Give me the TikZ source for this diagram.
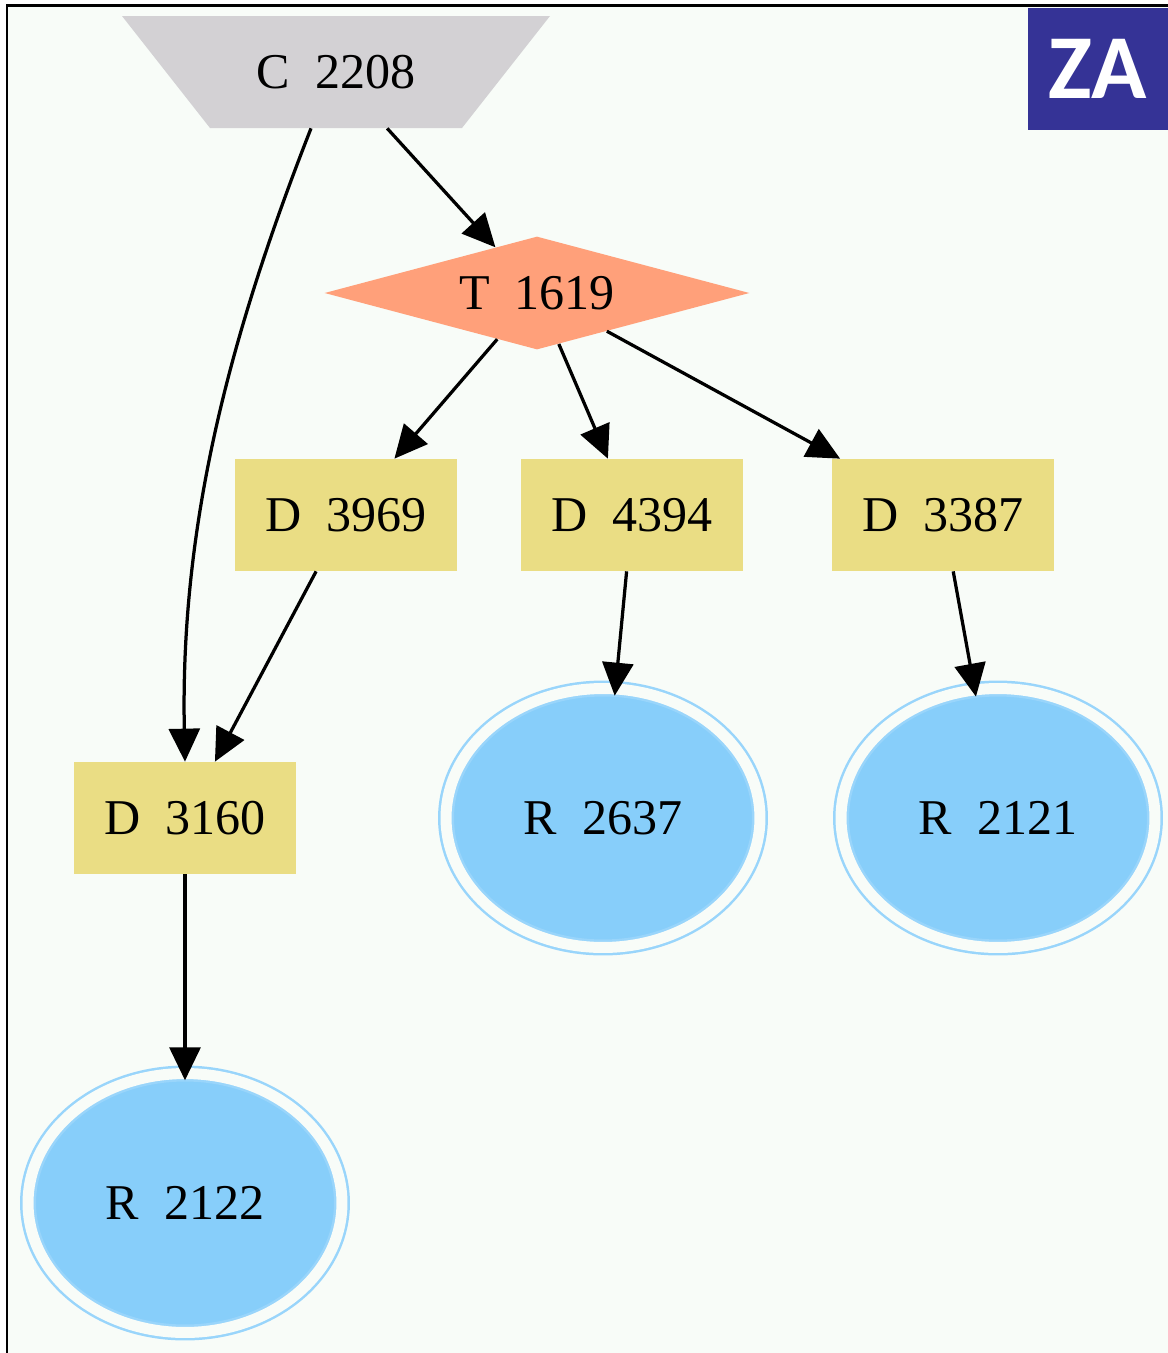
\documentclass[tikz,border=0pt]{standalone}
\usepackage{fontspec}
\setmainfont{Liberation Serif}
\newfontfamily\badgefont{Carlito}
\usetikzlibrary{arrows.meta,shapes.geometric,positioning}

\definecolor{bgcol}{RGB}{248,252,248}
\definecolor{ccol}{RGB}{211,209,212}
\definecolor{tcol}{RGB}{255,160,122}
\definecolor{dcol}{RGB}{234,221,132}
\definecolor{rcol}{RGB}{135,206,250}
\definecolor{zacol}{RGB}{53,51,150}

\tikzset{
    lbl/.style={font=\fontsize{28.5}{30}\selectfont, text=black},
    cbox/.style={lbl, rectangle, minimum width=5.04cm, minimum height=2.24cm, inner sep=0},
    tdiam/.style={lbl, diamond, fill=tcol, aspect=3.76,
        minimum width=8.5cm, minimum height=2.26cm, inner sep=0},
    drect/.style={lbl, rectangle, fill=dcol,
        minimum width=4.46cm, minimum height=2.24cm, inner sep=0},
    rell/.style={lbl, ellipse, fill=rcol, draw=rcol!85!white, line width=0.05cm,
        double=bgcol, double distance=0.22cm,
        minimum width=6.28cm, minimum height=5.18cm, inner sep=0},
    link/.style={line width=0.065cm, -{Triangle[length=0.66cm,width=0.62cm]}},
    toell/.style={link, shorten >=-0.16cm},
}

\begin{document}
\begin{tikzpicture}[x=0.02cm, y=-0.02cm]
    \useasboundingbox (0,0) rectangle (1168,1353);
    \fill[white] (0,0) rectangle (1168,1353);
    \fill[bgcol] (7,5) rectangle (1168,1353);              % Canvas
    \draw[line width=0.06cm] (7,1353) -- (7,5) -- (1168,5); % Frame

    % Badge
    \node[fill=zacol, minimum width=2.8cm, minimum height=2.44cm, inner sep=0,
          text=white, font=\badgefont\bfseries\fontsize{52}{52}\selectfont]
          (badge) at (1098,69) {ZA};

    % Nodes
    \fill[ccol] (122,16) -- (550,16) -- (462,128) -- (210,128) -- cycle; % C shape
    \node[cbox]  (c2208) at (336,72)   {C\ \ 2208};
    \node[tdiam] (t1619) at (537,293)  {T\ \ 1619};
    \node[drect] (d3969) at (346,515)  {D\ \ 3969};
    \node[drect] (d4394) at (632,515)  {D\ \ 4394};
    \node[drect] (d3387) at (943,515)  {D\ \ 3387};
    \node[drect] (d3160) at (185,818)  {D\ \ 3160};
    \node[rell]  (r2637) at (603,818)  {R\ \ 2637};
    \node[rell]  (r2121) at (998,818)  {R\ \ 2121};
    \node[rell]  (r2122) at (185,1203) {R\ \ 2122};

    % Edges
    \draw[link] (c2208) -- (t1619);
    \draw[link] ([xshift=-0.5cm]c2208.south) .. controls (232,330) and (180,520) .. (d3160.north);
    \draw[link] (t1619) -- (d3969);
    \draw[link] (t1619) -- (d4394);
    \draw[link] (t1619) -- (d3387);
    \draw[link] (d3969) -- (d3160);
    \draw[toell] (d4394) -- (r2637);
    \draw[toell] (d3387) -- (r2121);
    \draw[toell] (d3160) -- (r2122);
\end{tikzpicture}
\end{document}
